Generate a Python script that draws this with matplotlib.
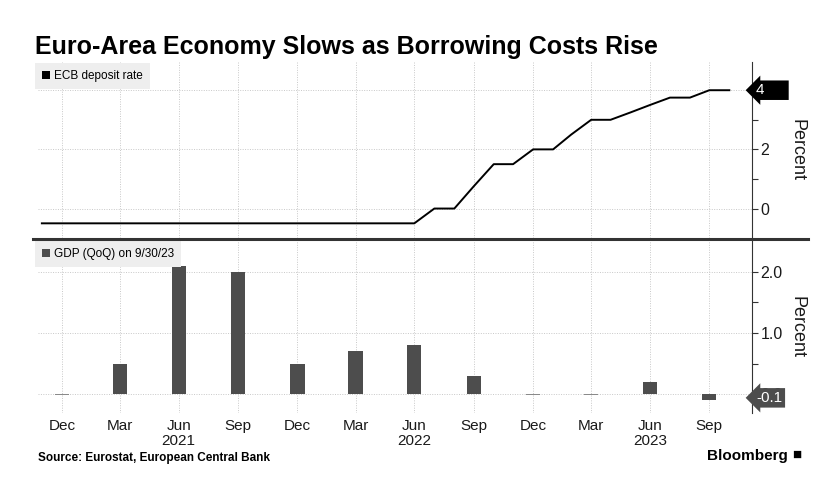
import numpy as np
import pandas as pd
import matplotlib
matplotlib.use("Agg")
import matplotlib.pyplot as plt
import matplotlib.patches as mpatches
from matplotlib.ticker import FixedLocator

# --------------------------------------------------------------------------- #
# Data
# --------------------------------------------------------------------------- #
RATE_MONTHS = pd.date_range("2020-11-30", "2023-10-31", freq="ME")
RATE_VALUES = [-0.5] * 19 + [
    -0.5,               # Jun 2022
    0.0, 0.0, 0.75,     # Jul, Aug, Sep 2022
    1.5, 1.5, 2.0,      # Oct, Nov, Dec 2022
    2.0, 2.5, 3.0,      # Jan, Feb, Mar 2023
    3.0, 3.25, 3.5,     # Apr, May, Jun 2023
    3.75, 3.75, 4.0,    # Jul, Aug, Sep 2023
    4.0,                # Oct 2023
]

GDP_QUARTERS = pd.date_range("2020-12-31", "2023-09-30", freq="QE")
GDP_VALUES = [0.0, 0.5, 2.1, 2.0, 0.5, 0.7, 0.8, 0.3, 0.0, 0.0, 0.2, -0.1]

TITLE = "Euro-Area Economy Slows as Borrowing Costs Rise"
SOURCE = "Source: Eurostat, European Central Bank"
TOP_LEGEND = "ECB deposit rate"
BOTTOM_LEGEND = "GDP (QoQ) on 9/30/23"

# --------------------------------------------------------------------------- #
# Styling
# --------------------------------------------------------------------------- #
FONT = ["Liberation Sans", "DejaVu Sans"]
LINE_COLOR = "#000000"
BAR_COLOR = "#4d4d4d"
ZERO_BAR_COLOR = "#8a8a8a"
GRID_COLOR = "#c8c8c8"
TEXT_COLOR = "#1a1a1a"
LEGEND_BG = "#eeeeee"

X_MIN, X_MAX = np.datetime64("2020-11-24"), np.datetime64("2023-12-05")


def style_axis(ax):
    ax.set_xlim(X_MIN, X_MAX)
    for side in ("left", "top", "bottom"):
        ax.spines[side].set_visible(False)
    ax.spines["right"].set_color("#333333")
    ax.yaxis.tick_right()
    ax.yaxis.set_label_position("right")
    ax.tick_params(axis="y", which="both", direction="out", colors="#333333",
                   labelcolor=TEXT_COLOR, labelsize=11.5, length=4, width=0.8, pad=2)
    ax.tick_params(axis="x", length=0)
    ax.grid(True, axis="both", which="major", color=GRID_COLOR,
            linestyle=(0, (1, 1.5)), linewidth=0.7)
    ax.set_ylabel("Percent", rotation=270, fontsize=13, color=TEXT_COLOR,
                  va="center", ha="center")
    ax.yaxis.set_label_coords(1.063, 0.5)


def add_legend(ax, color, label):
    leg = ax.legend(handles=[mpatches.Patch(facecolor=color, label=label)],
                    loc="upper left", bbox_to_anchor=(-0.004, 0.995), fontsize=8.5,
                    frameon=True, fancybox=False, handlelength=0.7, handleheight=0.7,
                    handletextpad=0.3, borderpad=0.6, borderaxespad=0)
    leg.get_frame().set_facecolor(LEGEND_BG)
    leg.get_frame().set_edgecolor("none")
    leg.get_frame().set_alpha(1)


def add_tag(ax, y, text, color):
    ax.text(1.006, y, text, transform=ax.get_yaxis_transform(),
            ha="left", va="center", color="white", fontsize=11, zorder=6, clip_on=False,
            bbox=dict(boxstyle="larrow,pad=0.18", facecolor=color, edgecolor="none"))


def main():
    plt.rcParams["font.family"] = FONT

    fig = plt.figure(figsize=(8.35, 4.93), dpi=100)
    ax_top = fig.add_axes([0.0455, 0.517, 0.855, 0.357])
    ax_bot = fig.add_axes([0.0455, 0.162, 0.855, 0.351], sharex=ax_top)

    # Top panel: ECB deposit rate
    ax_top.plot(RATE_MONTHS, RATE_VALUES, color=LINE_COLOR, linewidth=1.4)
    style_axis(ax_top)
    ax_top.set_ylim(-1.0, 4.95)
    ax_top.yaxis.set_major_locator(FixedLocator([0, 2, 4]))
    ax_top.yaxis.set_minor_locator(FixedLocator([1, 3]))
    ax_top.set_yticklabels(["0", "2", ""])
    ax_top.tick_params(axis="x", labelbottom=False)
    add_tag(ax_top, RATE_VALUES[-1], f"{RATE_VALUES[-1]:g}     ", "#000000")
    add_legend(ax_top, LINE_COLOR, TOP_LEGEND)

    # Bottom panel: GDP QoQ (zero quarters drawn as a thin stub)
    nonzero = [(d, v) for d, v in zip(GDP_QUARTERS, GDP_VALUES) if v != 0]
    zero = [d for d, v in zip(GDP_QUARTERS, GDP_VALUES) if v == 0]
    ax_bot.bar([d for d, _ in nonzero], [v for _, v in nonzero], width=22,
               color=BAR_COLOR, zorder=3)
    ax_bot.bar(zero, [0.012] * len(zero), width=22, bottom=-0.006,
               color=ZERO_BAR_COLOR, zorder=3)
    style_axis(ax_bot)
    ax_bot.set_ylim(-0.31, 2.52)
    ax_bot.yaxis.set_major_locator(FixedLocator([0.0, 1.0, 2.0]))
    ax_bot.yaxis.set_minor_locator(FixedLocator([0.5, 1.5]))
    ax_bot.set_yticklabels(["0.0", "1.0", "2.0"])
    add_tag(ax_bot, -0.06, f"{GDP_VALUES[-1]:g}", "#4d4d4d")
    add_legend(ax_bot, BAR_COLOR, BOTTOM_LEGEND)

    # Quarterly ticks with year under June
    labels = [d.strftime("%b") + ("\n" + d.strftime("%Y") if d.month == 6 else "")
              for d in GDP_QUARTERS]
    ax_bot.set_xticks(GDP_QUARTERS)
    ax_bot.set_xticklabels(labels, fontsize=11, color=TEXT_COLOR, va="top",
                           linespacing=1.1)
    ax_bot.tick_params(axis="x", pad=4)

    # Separator between panels
    fig.add_artist(plt.Line2D([0.04, 0.968], [0.516, 0.516], color="#333333",
                              linewidth=2.2, transform=fig.transFigure))

    fig.text(0.042, 0.905, TITLE, fontsize=18, fontweight="bold", color="#000000",
             ha="left", va="center")
    fig.text(0.046, 0.071, SOURCE, fontsize=8.5, fontweight="bold", color="#000000",
             ha="left", va="center")
    fig.text(0.943, 0.075, "Bloomberg", fontsize=11, fontweight="bold", color="#000000",
             ha="right", va="center")
    fig.text(0.949, 0.077, "\u25A0", fontsize=11, color="#000000",
             ha="left", va="center")

    fig.savefig("out.png", dpi=100)
    plt.close(fig)


if __name__ == "__main__":
    main()
